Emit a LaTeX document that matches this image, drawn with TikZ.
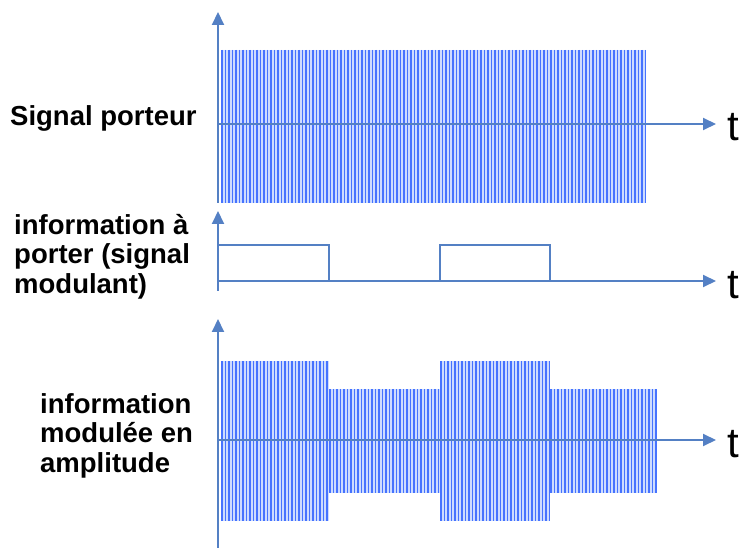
\documentclass[tikz,border=0pt]{standalone}
\usepackage{fontspec}
\setmainfont{Liberation Sans}
\usetikzlibrary{arrows.meta}
\definecolor{axisblue}{RGB}{84,128,196}
\definecolor{wave}{RGB}{70,115,255}
\definecolor{wavebg}{RGB}{205,220,255}
\begin{document}
\begin{tikzpicture}[x=1pt,y=-1pt,
  axis/.style={draw=axisblue,line width=2pt},
  axisarrow/.style={axis,-{Triangle[length=13pt,width=12pt]}},
  pulse/.style={draw=axisblue,line width=2pt,line join=miter},
  lbl/.style={font=\bfseries\fontsize{27.5}{29.5}\selectfont,align=left,anchor=north west,inner sep=0pt},
  tlbl/.style={font=\fontsize{42}{42}\selectfont,anchor=west,inner sep=0pt},
  band/.style={fill=wavebg,draw=none},
  stroke/.style={draw=wave,line width=1.35pt}]
\useasboundingbox (0,0) rectangle (745,548);
\fill[white] (0,0) rectangle (745,548);

% carrier bursts: pale band with dense vertical strokes
\newcommand{\burst}[4]{%
  \fill[band] (#1,#3) rectangle (#2,#4);
  \pgfmathsetmacro{\nlast}{floor((#2-#1)/3.5)}
  \foreach \k in {0,...,\nlast}{\draw[stroke] ({#1+0.9+3.5*\k},#3) -- ({#1+0.9+3.5*\k},#4);}
}

% --- unmodulated carrier
\burst{221}{645}{50}{203}
% --- amplitude-modulated carrier
\burst{221}{329}{361}{521}
\burst{329}{440}{389}{493}
\burst{440}{550}{361}{521}
\burst{550}{655}{389}{493}

% axes
\coordinate (o1b) at (218,203);  \coordinate (o1t) at (218,12);
\coordinate (h1l) at (218,124);  \coordinate (h1r) at (716,124);
\coordinate (o2b) at (218,291);  \coordinate (o2t) at (218,211);
\coordinate (h2l) at (218,281);  \coordinate (h2r) at (716,281);
\coordinate (o3b) at (218,548);  \coordinate (o3t) at (218,319);
\coordinate (h3l) at (218,440);  \coordinate (h3r) at (716,440);

\draw[axisarrow] (o1b) -- (o1t);
\draw[axisarrow] (h1l) -- (h1r);
\draw[axisarrow] (o2b) -- (o2t);
\draw[axisarrow] (h2l) -- (h2r);
\draw[axisarrow] (o3b) -- (o3t);
\draw[axisarrow] (h3l) -- (h3r);

% modulating square wave
\coordinate (p1a) at (218,245); \coordinate (p1b) at (329,245); \coordinate (p1c) at (329,281);
\coordinate (p2a) at (440,281); \coordinate (p2b) at (440,245); \coordinate (p2c) at (550,245); \coordinate (p2d) at (550,281);
\draw[pulse] (p1a) -- (p1b) -- (p1c);
\draw[pulse] (p2a) -- (p2b) -- (p2c) -- (p2d);

% time labels
\node[tlbl] (t1) at (727,127) {t};
\node[tlbl] (t2) at (727,285) {t};
\node[tlbl] (t3) at (727,444) {t};

% captions
\node[lbl] (c1) at (10,105) {Signal porteur};
\node[lbl] (c2) at (14,214) {information à\\porter (signal\\modulant)};
\node[lbl] (c3) at (40,393) {information\\modulée en\\amplitude};
\end{tikzpicture}
\end{document}
